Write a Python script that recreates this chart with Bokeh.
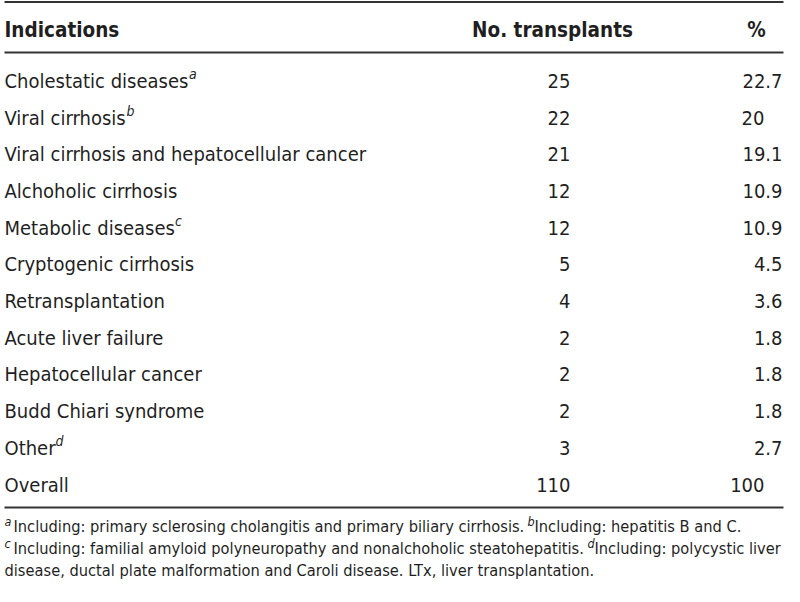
from bokeh.plotting import figure
from bokeh.models import Range1d, ColumnDataSource
from bokeh.core.properties import value
from bokeh.embed import file_html
from bokeh.resources import INLINE

# ---- data ----
indications = ["Cholestatic diseases", "Viral cirrhosis",
               "Viral cirrhosis and hepatocellular cancer", "Alchoholic cirrhosis",
               "Metabolic diseases", "Cryptogenic cirrhosis", "Retransplantation",
               "Acute liver failure", "Hepatocellular cancer", "Budd Chiari syndrome",
               "Other", "Overall"]
notes = ["a", "b", "", "", "c", "", "", "", "", "", "d", ""]
transplants = ["25", "22", "21", "12", "12", "5", "4", "2", "2", "2", "3", "110"]
percents = ["22.7", "20", "19.1", "10.9", "10.9", "4.5", "3.6", "1.8", "1.8", "1.8", "2.7", "100"]
headers = ["Indications", "No. transplants", "%"]
footnotes = [
    [("a", True), ("Including: primary sclerosing cholangitis and primary biliary cirrhosis.", False),
     ("b", True), ("Including: hepatitis B and C.", False)],
    [("c", True), ("Including: familial amyloid polyneuropathy and nonalchoholic steatohepatitis.", False),
     ("d", True), ("Including: polycystic liver", False)],
    [("disease, ductal plate malformation and Caroli disease. LTx, liver transplantation.", False)],
]

# ---- layout (data units = pixels) ----
W, H = 784, 586
FONT = value("DejaVu Sans Condensed")
COLOR = "#1f1f1f"
ROW0, ROWH = 80.3, 36.7
HEAD_Y = 29
LEFT = 4
NUM_RIGHT = 570
PCT_INT_RIGHT = 764
PCT_DEC_RIGHT = 782
BODY = "20px"
sup_x = {"a": 188.5, "b": 126, "c": 174.5, "d": 55}
foot_y = [526, 548, 570]
foot_x = [[4, 13, 527, 534], [4, 13, 587, 594], [4]]

p = figure(width=W, height=H, x_range=Range1d(0, W), y_range=Range1d(H, 0),
           output_backend="svg", toolbar_location=None, min_border=0,
           x_axis_location=None, y_axis_location=None)
p.grid.visible = False
p.outline_line_color = None
p.background_fill_color = "white"
p.border_fill_color = "white"

# rules
p.segment(x0=[4, 4, 4], x1=[783, 783, 783], y0=[1.5, 52, 507], y1=[1.5, 52, 507],
          line_color="#333333", line_width=1.8)

# header
p.text(x=[LEFT], y=[HEAD_Y], text=[headers[0]], text_font=FONT, text_font_size="20.5px",
       text_font_style="bold", text_align="left", text_baseline="middle", text_color=COLOR)
p.text(x=[552, 756], y=[HEAD_Y, HEAD_Y], text=headers[1:], text_font=FONT, text_font_size="20.5px",
       text_font_style="bold", text_align="center", text_baseline="middle", text_color=COLOR)

ys = [ROW0 + i * ROWH for i in range(len(indications))]
src = ColumnDataSource(dict(
    y=ys, ind=indications, n=transplants, pct=percents,
    px=[PCT_DEC_RIGHT if "." in s else PCT_INT_RIGHT for s in percents],
))
p.text(x=LEFT, y="y", text="ind", source=src, text_font=FONT, text_font_size=BODY,
       text_align="left", text_baseline="middle", text_color=COLOR)
p.text(x=NUM_RIGHT, y="y", text="n", source=src, text_font=FONT, text_font_size=BODY,
       text_align="right", text_baseline="middle", text_color=COLOR)
p.text(x="px", y="y", text="pct", source=src, text_font=FONT, text_font_size=BODY,
       text_align="right", text_baseline="middle", text_color=COLOR)

# superscripts in rows
sx, sy, st = [], [], []
for i, n in enumerate(notes):
    if n:
        sx.append(sup_x[n]); sy.append(ys[i] - 7); st.append(n)
p.text(x=sx, y=sy, text=st, text_font=FONT, text_font_size="14px", text_font_style="italic",
       text_align="left", text_baseline="middle", text_color=COLOR)

# footnotes
for li, segs in enumerate(footnotes):
    for si, (t, sup) in enumerate(segs):
        x = foot_x[li][si]
        if sup:
            p.text(x=[x], y=[foot_y[li] - 5], text=[t], text_font=FONT, text_font_size="12.5px",
                   text_font_style="italic", text_align="left", text_baseline="middle",
                   text_color=COLOR)
        else:
            p.text(x=[x], y=[foot_y[li]], text=[t], text_font=FONT, text_font_size="16.3px",
                   text_align="left", text_baseline="middle", text_color=COLOR)

open("out.html", "w").write(file_html(p, INLINE))
